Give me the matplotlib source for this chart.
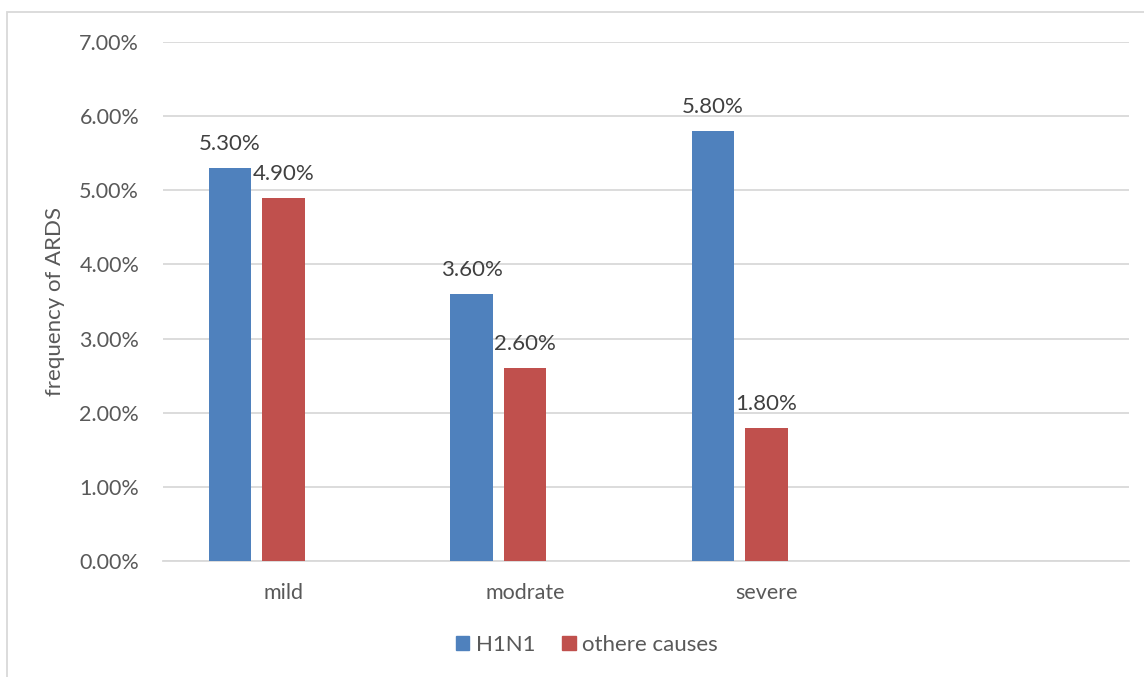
import matplotlib.pyplot as plt
import matplotlib.patches as mpatches
import numpy as np
from matplotlib.ticker import FuncFormatter

plt.rcParams['font.family'] = ['Lato', 'DejaVu Sans']

# severity groups; the last slot is left empty on the category axis
categories = ['mild', 'modrate', 'severe', '']
h1n1 = [5.3, 3.6, 5.8]
other_causes = [4.9, 2.6, 1.8]
series_names = ['H1N1', 'othere causes']

colors = {'blue': '#4F81BD', 'red': '#C0504D', 'grid': '#D9D9D9', 'text': '#595959', 'label': '#404040'}

fig = plt.figure(figsize=(11.44, 6.77), dpi=100)
ax = fig.add_axes([162.75 / 1144, 1 - 561 / 677, 966 / 1144, (561 - 42) / 677])

width = 0.174
step = 0.2215
x = np.arange(len(h1n1))
b1 = ax.bar(x - step, h1n1, width, color=colors['blue'], zorder=3)
b2 = ax.bar(x, other_causes, width, color=colors['red'], zorder=3)

for bars, vals in [(b1, h1n1), (b2, other_causes)]:
    for rect, v in zip(bars, vals):
        ax.annotate('{:.2f}%'.format(v), (rect.get_x() + rect.get_width() / 2, v),
                    xytext=(0, 10), textcoords='offset points', ha='center', va='bottom',
                    fontsize=16, color=colors['label'])

ax.set_xlim(-0.5, len(categories) - 0.5)
ax.set_ylim(0, 7)
ax.set_yticks(np.arange(0, 8, 1))
ax.yaxis.set_major_formatter(FuncFormatter(lambda v, p: '{:.2f}%'.format(v)))
ax.set_xticks(np.arange(len(categories)))
ax.set_xticklabels(categories)

ax.grid(axis='y', color=colors['grid'], linewidth=1.3, zorder=0)
for side in ['top', 'right', 'left']:
    ax.spines[side].set_visible(False)
ax.spines['bottom'].set_color(colors['grid'])
ax.spines['bottom'].set_linewidth(1.3)
ax.tick_params(axis='both', length=0, labelsize=15.5, labelcolor=colors['text'])
ax.tick_params(axis='y', pad=17)
ax.tick_params(axis='x', pad=16)

ax.set_ylabel('frequency of ARDS', fontsize=16, color=colors['text'], labelpad=10)

handles = [mpatches.Patch(color=colors['blue'], label=series_names[0]),
           mpatches.Patch(color=colors['red'], label=series_names[1])]
fig.legend(handles=handles, loc='center', bbox_to_anchor=(587 / 1144, 1 - 645 / 677), ncol=2,
           frameon=False, fontsize=16, labelcolor=colors['text'], handlelength=0.6,
           handleheight=0.6, handletextpad=0.3, columnspacing=1.2)

# outer chart border
fig.add_artist(mpatches.Rectangle((7 / 1144, -0.1), 1.2, (1 - 12 / 677) + 0.1, transform=fig.transFigure,
                                  fill=False, edgecolor=colors['grid'], linewidth=1.3))

fig.savefig('out.png', dpi=100, facecolor='white')
